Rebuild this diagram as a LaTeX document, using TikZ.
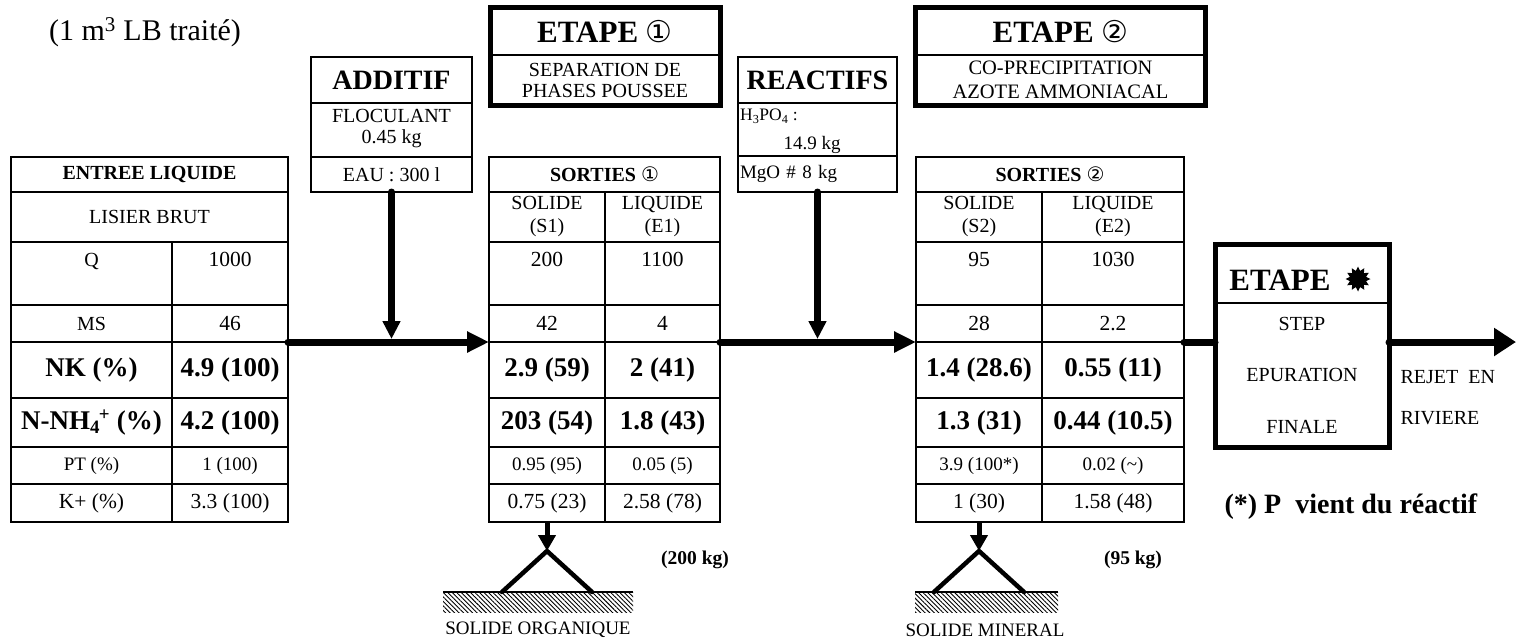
\documentclass[tikz,border=0pt]{standalone}
\usepackage{fontspec}
\setmainfont{Liberation Serif}
\newfontfamily\symfont{DejaVu Sans}
\usetikzlibrary{arrows.meta,shapes.geometric,fit,patterns.meta}

% one ruled table cell: name, x, y (north west corner), width, height, options, text
\newcommand{\cellnode}[7]{\node[cell,#6,minimum width=#4pt,minimum height=#5pt] (#1) at (#2,#3) {#7};}

\begin{document}
\begin{tikzpicture}[x=1pt,y=-1pt,
  cell/.style={draw, line width=1.3pt, rectangle, inner sep=0pt, outer sep=0pt,
    anchor=north west, align=center},
  frame/.style={draw, line width=2.6pt, inner sep=0pt, outer sep=0pt, fit=#1},
  stepframe/.style={draw, line width=5pt, inner sep=0pt, outer sep=0pt, fit=#1},
  toprow/.style={text height=14pt, text depth=29pt},
  r17/.style={font=\fontsize{17.5pt}{20pt}\selectfont},
  r19/.style={font=\fontsize{19pt}{22pt}\selectfont},
  r20/.style={font=\fontsize{20pt}{23pt}\selectfont},
  r21/.style={font=\fontsize{21.5pt}{24pt}\selectfont},
  r20t/.style={font=\fontsize{20pt}{21pt}\selectfont},
  r20w/.style={font=\fontsize{20.5pt}{24pt}\selectfont},
  r20step/.style={font=\fontsize{20pt}{51.5pt}\selectfont},
  r20rej/.style={font=\fontsize{20pt}{41pt}\selectfont},
  r30/.style={font=\fontsize{30pt}{34pt}\selectfont},
  b19/.style={font=\fontsize{19.5pt}{22pt}\selectfont\bfseries},
  b20/.style={font=\fontsize{20pt}{23pt}\selectfont\bfseries},
  b27/.style={font=\fontsize{27pt}{30pt}\selectfont\bfseries},
  b28/.style={font=\fontsize{28pt}{32pt}\selectfont\bfseries},
  b31/.style={font=\fontsize{31pt}{34pt}\selectfont\bfseries},
  flow/.style={line width=7pt, line cap=round, -{Triangle[length=22pt,width=20pt]}},
  flowline/.style={line width=7pt, line cap=round},
  drop/.style={line width=7pt, line cap=round, -{Triangle[length=18pt,width=17pt]}, shorten >=3pt},
  soliddrop/.style={line width=5pt, -{Triangle[length=16pt,width=17pt]}},
  leg/.style={line width=4.5pt, line cap=round, line join=round},
  ground/.style={anchor=north west, inner sep=0pt, outer sep=0pt,
    pattern={Lines[angle=-45,distance=3.2pt,line width=0.9pt]}},
]
\fill[white] (0,0) rectangle (1519,638);
\useasboundingbox (0,0) rectangle (1519,638);

% ---------- inlet table ----------
\cellnode{lhead}{11}{157}{277}{35}{b20}{ENTREE LIQUIDE}
\cellnode{lname}{11}{192}{277}{50}{r20}{LISIER BRUT}
\cellnode{lq1}{11}{242}{161}{63}{r20,toprow}{Q}
\cellnode{lq2}{172}{242}{116}{63}{r21,toprow}{1000}
\cellnode{lms1}{11}{305}{161}{37}{r20}{MS}
\cellnode{lms2}{172}{305}{116}{37}{r21}{46}
\cellnode{lnk1}{11}{342}{161}{56}{b27}{NK (\%)}
\cellnode{lnk2}{172}{342}{116}{56}{b27}{4.9 (100)}
\cellnode{lnh1}{11}{398}{161}{49}{b27}{N-NH\textsubscript{4}\kern-1pt\textsuperscript{+} (\%)}
\cellnode{lnh2}{172}{398}{116}{49}{b27}{4.2 (100)}
\cellnode{lpt1}{11}{447}{161}{37}{r19}{PT (\%)}
\cellnode{lpt2}{172}{447}{116}{37}{r19}{1 (100)}
\cellnode{lk1}{11}{484}{161}{38}{r21}{K+ (\%)}
\cellnode{lk2}{172}{484}{116}{38}{r21}{3.3 (100)}
\node[frame={(lhead)(lk2)}] (ltable) {};

% ---------- additive box ----------
\cellnode{addh}{311}{57}{161}{46}{b28}{ADDITIF}
\cellnode{addf}{311}{103}{161}{54}{r20t,text depth=8pt}{FLOCULANT\\0.45 kg}
\cellnode{adde}{311}{157}{161}{35}{r20}{EAU : 300 l}
\node[frame={(addh)(adde)}] (addbox) {};

% ---------- step 1 ----------
\cellnode{e1h}{490}{7.5}{230}{47.5}{b31}{ETAPE {\symfont\mdseries\fontsize{30pt}{30pt}\selectfont ①}}
\cellnode{e1s}{490}{55}{230}{50.5}{r20t}{SEPARATION DE\\PHASES POUSSEE}
\node[stepframe={(e1h)(e1s)}] (e1box) {};

% ---------- outputs of step 1 ----------
\cellnode{s1head}{489}{157}{231}{35}{b20}{SORTIES {\symfont\mdseries ①}}
\cellnode{s1h1}{489}{192}{116}{50}{r20}{SOLIDE\\(S1)}
\cellnode{s1h2}{605}{192}{115}{50}{r20}{LIQUIDE\\(E1)}
\cellnode{s1q1}{489}{242}{116}{63}{r21,toprow}{200}
\cellnode{s1q2}{605}{242}{115}{63}{r21,toprow}{1100}
\cellnode{s1ms1}{489}{305}{116}{37}{r21}{42}
\cellnode{s1ms2}{605}{305}{115}{37}{r21}{4}
\cellnode{s1nk1}{489}{342}{116}{56}{b27}{2.9 (59)}
\cellnode{s1nk2}{605}{342}{115}{56}{b27}{2 (41)}
\cellnode{s1nh1}{489}{398}{116}{49}{b27}{203 (54)}
\cellnode{s1nh2}{605}{398}{115}{49}{b27}{1.8 (43)}
\cellnode{s1pt1}{489}{447}{116}{37}{r19}{0.95 (95)}
\cellnode{s1pt2}{605}{447}{115}{37}{r19}{0.05 (5)}
\cellnode{s1k1}{489}{484}{116}{38}{r21}{0.75 (23)}
\cellnode{s1k2}{605}{484}{115}{38}{r21}{2.58 (78)}
\node[frame={(s1head)(s1k2)}] (s1table) {};

% ---------- reagents box ----------
\cellnode{reah}{738}{57}{159}{46}{b28}{REACTIFS}
\cellnode{reap}{738}{103}{159}{53}{}{}
\node[r17, anchor=west, inner sep=1pt] (acid) at (739,116) {H\textsubscript{3}PO\textsubscript{4} :};
\node[r19] (acidqty) at (812,145) {14.9 kg};
\cellnode{ream}{738}{156}{159}{36}{r19,text width=155pt,inner xsep=2pt,align=left}{MgO \# 8 kg}
\node[frame={(reah)(ream)}] (reabox) {};

% ---------- step 2 ----------
\cellnode{e2h}{915.5}{7.5}{290}{47.5}{b31}{ETAPE {\symfont\mdseries\fontsize{30pt}{30pt}\selectfont ②}}
\cellnode{e2s}{915.5}{55}{290}{50.5}{r20w}{CO-PRECIPITATION\\AZOTE AMMONIACAL}
\node[stepframe={(e2h)(e2s)}] (e2box) {};

% ---------- outputs of step 2 ----------
\cellnode{s2head}{916}{157}{268}{35}{b20}{SORTIES {\symfont\mdseries ②}}
\cellnode{s2h1}{916}{192}{126}{50}{r20}{SOLIDE\\(S2)}
\cellnode{s2h2}{1042}{192}{142}{50}{r20}{LIQUIDE\\(E2)}
\cellnode{s2q1}{916}{242}{126}{63}{r21,toprow}{95}
\cellnode{s2q2}{1042}{242}{142}{63}{r21,toprow}{1030}
\cellnode{s2ms1}{916}{305}{126}{37}{r21}{28}
\cellnode{s2ms2}{1042}{305}{142}{37}{r21}{2.2}
\cellnode{s2nk1}{916}{342}{126}{56}{b27}{1.4 (28.6)}
\cellnode{s2nk2}{1042}{342}{142}{56}{b27}{0.55 (11)}
\cellnode{s2nh1}{916}{398}{126}{49}{b27}{1.3 (31)}
\cellnode{s2nh2}{1042}{398}{142}{49}{b27}{0.44 (10.5)}
\cellnode{s2pt1}{916}{447}{126}{37}{r19}{3.9 (100*)}
\cellnode{s2pt2}{1042}{447}{142}{37}{r19}{0.02 (\textasciitilde)}
\cellnode{s2k1}{916}{484}{126}{38}{r21}{1 (30)}
\cellnode{s2k2}{1042}{484}{142}{38}{r21}{1.58 (48)}
\node[frame={(s2head)(s2k2)}] (s2table) {};

% ---------- final step ----------
\cellnode{esh}{1215}{244.5}{174}{58.5}{}{}
\node[b31] (eshtext) at (1280,280) {ETAPE};
\node[star, star points=12, star point ratio=1.5, fill=black, draw=none,
      minimum size=25pt, inner sep=0pt] (estar) at (1358,279) {};
\cellnode{ess}{1215}{303}{174}{144.5}{r20step}{STEP\\EPURATION\\FINALE}
\node[stepframe={(esh)(ess)}] (esbox) {};

% ---------- free texts ----------
\node[r30] (title) at (145,32) {(1 m\textsuperscript{3} LB traité)};
\node[r20rej, anchor=west, align=left] (rejet) at (1397,397.5) {REJET\ \ EN\\RIVIERE};
\node[b28, anchor=west] (note) at (1221,507) {(*) P\ \ vient du réactif};
\node[b19] (mass1) at (695,560) {(200 kg)};
\node[b19] (mass2) at (1133,560) {(95 kg)};

% ---------- main flow ----------
\coordinate (outlet) at (1516,342);
\draw[flow] (lms2.south east) -- (s1nk1.north west);
\draw[flow] (s1ms2.south east) -- (s2nk1.north west);
\draw[flowline] (s2ms2.south east) -- (s2ms2.south east -| esbox.west);
\draw[flowline, -{Triangle[length=22pt,width=27pt]}] (s2ms2.south east -| esbox.east) -- (outlet);
\draw[drop] (adde.south) -- (adde.south |- lms2.south east);
\draw[drop] (ream.south) -- (ream.south |- s1ms2.south east);

% ---------- solid outputs to storage ----------
\node[ground, minimum width=190pt, minimum height=20pt] (gnd1) at (443,592) {};
\draw[line width=1.5pt] (gnd1.north west) -- (gnd1.north east);
\coordinate (apex1) at (547,551);
\coordinate (foot1a) at (502,592);
\coordinate (foot1b) at (592,592);
\draw[soliddrop] (s1k1.south) -- (apex1);
\draw[leg] (foot1a) -- (apex1) -- (foot1b);
\node[r19] (sorg) at (538,630) {SOLIDE ORGANIQUE};

\node[ground, minimum width=143pt, minimum height=20pt] (gnd2) at (915,592) {};
\draw[line width=1.5pt] (gnd2.north west) -- (gnd2.north east);
\coordinate (apex2) at (979,551);
\coordinate (foot2a) at (934,592);
\coordinate (foot2b) at (1024,592);
\draw[soliddrop] (s2k1.south) -- (apex2);
\draw[leg] (foot2a) -- (apex2) -- (foot2b);
\node[r19] (smin) at (985,630) {SOLIDE MINERAL};
\end{tikzpicture}
\end{document}
